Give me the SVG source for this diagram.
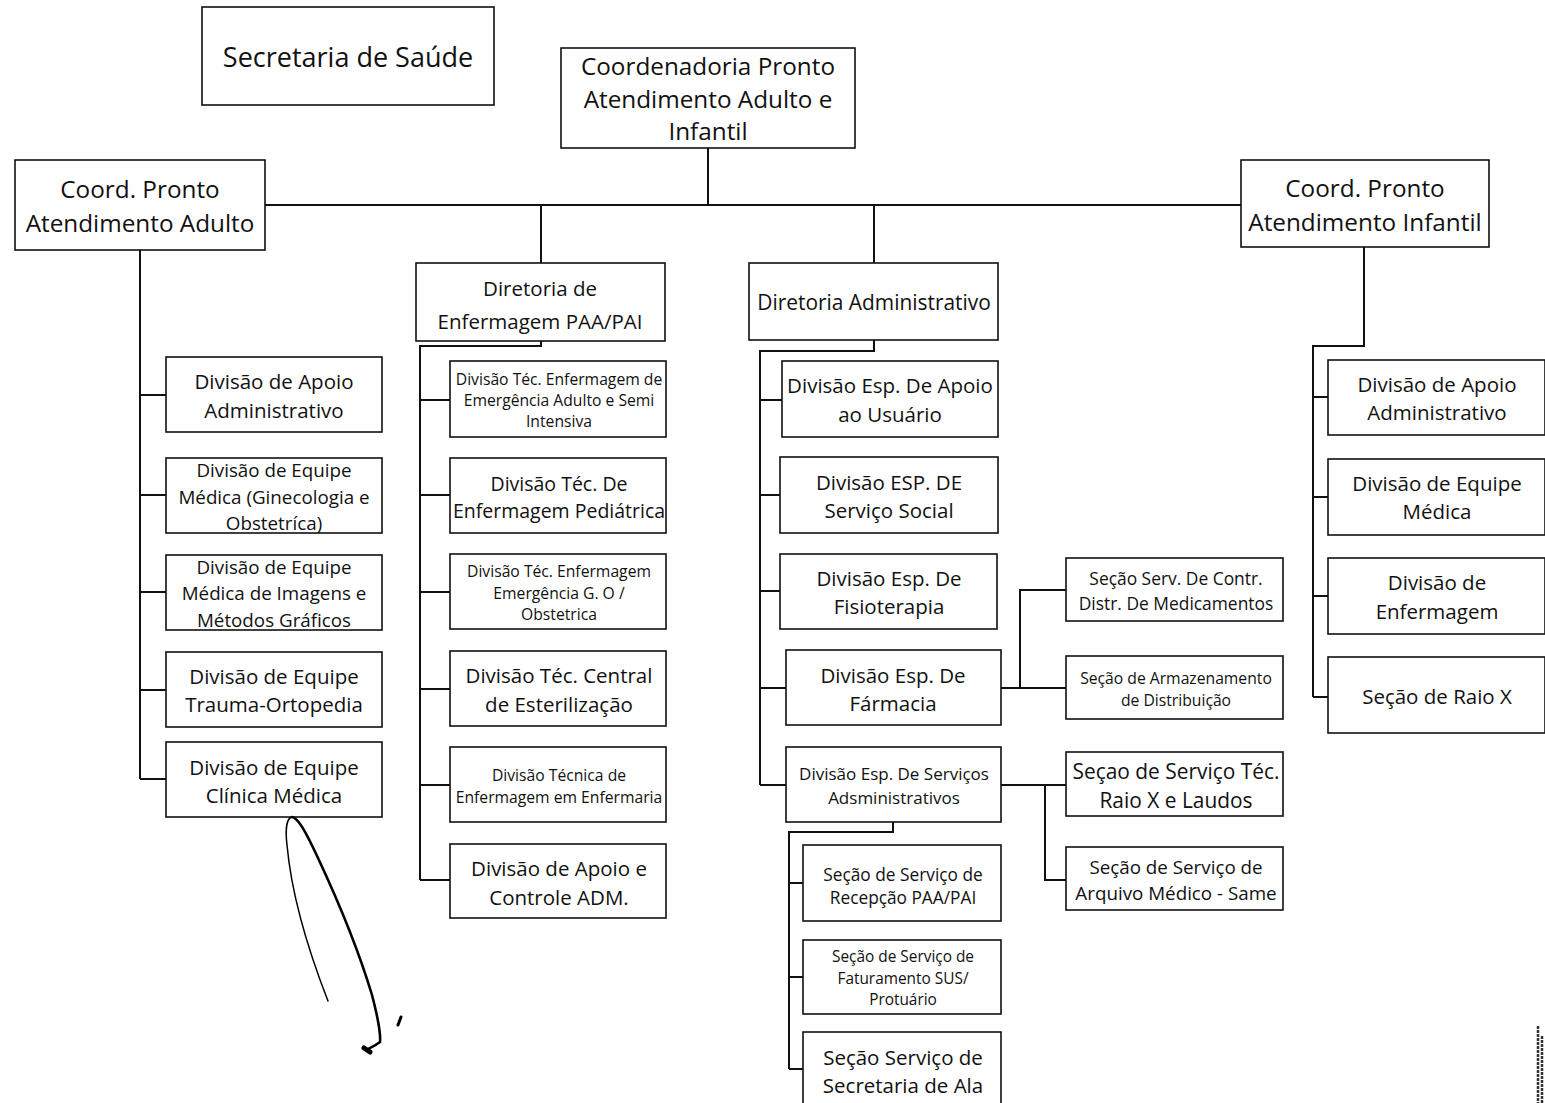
<svg xmlns="http://www.w3.org/2000/svg" width="1545" height="1103" viewBox="0 0 1545 1103">
<style>
.b{fill:#fff;stroke:#111;stroke-width:1.6}
.t{font-family:"Open Sans","Noto Sans","Liberation Sans",sans-serif;fill:#111;text-anchor:middle;dominant-baseline:central}
.l{fill:none;stroke:#111;stroke-width:2}
.s20{font-size:20.5px}.s19{font-size:19.5px}.s18{font-size:18.8px}.s16{font-size:17px}.s15{font-size:15.7px}.s23{font-size:24.3px}
</style>
<rect width="1545" height="1103" fill="#fff"/>
<g id="connectors">
<path class="l" d="M708 148V205M265 205H1241M541 205V263M874 205V263"/>
<path class="l" d="M140 250V779M140 395H166M140 495H166M140 592H166M140 690H166M140 779H166"/>
<path class="l" d="M541 341V346H420V880M420 400H450M420 495H450M420 592H450M420 689H450M420 785H450M420 880H450"/>
<path class="l" d="M874 340V351H760V785M760 400H782M760 495H780M760 591H780M760 688H786M760 785H786"/>
<path class="l" d="M1001 688H1066M1020 688V590H1066"/>
<path class="l" d="M1001 785H1066M1045 785V880H1066"/>
<path class="l" d="M893 822V832H789V1069M789 883H803M789 977H803M789 1069H803"/>
<path class="l" d="M1364 247V346H1313V697M1313 397H1328M1313 497H1328M1313 596H1328M1313 697H1328"/>
</g>
<g id="title"><rect class="b" x="202" y="7" width="292" height="98"/><text class="t" x="348" y="56" font-size="27">Secretaria de Saúde</text></g>
<g id="coord-geral"><rect class="b" x="561" y="48" width="294" height="100"/><text class="t s23" x="708" y="65">Coordenadoria Pronto</text><text class="t s23" x="708" y="98">Atendimento Adulto e</text><text class="t s23" x="708" y="130">Infantil</text></g>
<g id="coord-adulto"><rect class="b" x="15" y="160" width="250" height="90"/><text class="t s23" x="140" y="188">Coord. Pronto</text><text class="t s23" x="140" y="222">Atendimento Adulto</text></g>
<g id="coord-infantil"><rect class="b" x="1241" y="160" width="248" height="87"/><text class="t s23" x="1365" y="187">Coord. Pronto</text><text class="t s23" x="1365" y="221">Atendimento Infantil</text></g>
<g id="dir-enf"><rect class="b" x="416" y="263" width="249" height="78"/><text class="t s20" x="540" y="288">Diretoria de</text><text class="t s20" x="540" y="321">Enfermagem PAA/PAI</text></g>
<g id="dir-adm"><rect class="b" x="749" y="263" width="249" height="77"/><text class="t" font-size="20.9" x="874" y="302">Diretoria Administrativo</text></g>

<g id="a1"><rect class="b" x="166" y="357" width="216" height="75"/><text class="t s20" x="274" y="381">Divisão de Apoio</text><text class="t s20" x="274" y="410">Administrativo</text></g>
<g id="a2"><rect class="b" x="166" y="458" width="216" height="75"/><text class="t s18" x="274" y="470">Divisão de Equipe</text><text class="t s18" x="274" y="497">Médica (Ginecologia e</text><text class="t s18" x="274" y="523">Obstetríca)</text></g>
<g id="a3"><rect class="b" x="166" y="555" width="216" height="75"/><text class="t s18" x="274" y="567">Divisão de Equipe</text><text class="t s18" x="274" y="593">Médica de Imagens e</text><text class="t s18" x="274" y="620">Métodos Gráficos</text></g>
<g id="a4"><rect class="b" x="166" y="652" width="216" height="75"/><text class="t s20" x="274" y="676">Divisão de Equipe</text><text class="t s20" x="274" y="704">Trauma-Ortopedia</text></g>
<g id="a5"><rect class="b" x="166" y="742" width="216" height="75"/><text class="t s20" x="274" y="767">Divisão de Equipe</text><text class="t s20" x="274" y="795">Clínica Médica</text></g>

<g id="e1"><rect class="b" x="450" y="361" width="216" height="76"/><text class="t s15" x="559" y="379">Divisão Téc. Enfermagem de</text><text class="t s15" x="559" y="400">Emergência Adulto e Semi</text><text class="t s15" x="559" y="421">Intensiva</text></g>
<g id="e2"><rect class="b" x="450" y="458" width="216" height="75"/><text class="t s19" x="559" y="483">Divisão Téc. De</text><text class="t s19" x="559" y="510">Enfermagem Pediátrica</text></g>
<g id="e3"><rect class="b" x="450" y="554" width="216" height="75"/><text class="t s15" x="559" y="571">Divisão Téc. Enfermagem</text><text class="t s15" x="559" y="593">Emergência G. O /</text><text class="t s15" x="559" y="614">Obstetrica</text></g>
<g id="e4"><rect class="b" x="450" y="651" width="216" height="75"/><text class="t s20" x="559" y="675">Divisão Téc. Central</text><text class="t s20" x="559" y="704">de Esterilização</text></g>
<g id="e5"><rect class="b" x="450" y="747" width="216" height="75"/><text class="t s15" x="559" y="775">Divisão Técnica de</text><text class="t s15" x="559" y="797">Enfermagem em Enfermaria</text></g>
<g id="e6"><rect class="b" x="450" y="844" width="216" height="74"/><text class="t s20" x="559" y="868">Divisão de Apoio e</text><text class="t s20" x="559" y="897">Controle ADM.</text></g>

<g id="d1"><rect class="b" x="782" y="361" width="216" height="76"/><text class="t s20" x="890" y="385">Divisão Esp. De Apoio</text><text class="t s20" x="890" y="414">ao Usuário</text></g>
<g id="d2"><rect class="b" x="780" y="457" width="218" height="76"/><text class="t s20" x="889" y="482">Divisão ESP. DE</text><text class="t s20" x="889" y="510">Serviço Social</text></g>
<g id="d3"><rect class="b" x="780" y="554" width="217" height="75"/><text class="t s20" x="889" y="578">Divisão Esp. De</text><text class="t s20" x="889" y="606">Fisioterapia</text></g>
<g id="d4"><rect class="b" x="786" y="650" width="215" height="75"/><text class="t s20" x="893" y="675">Divisão Esp. De</text><text class="t s20" x="893" y="703">Fármacia</text></g>
<g id="d5"><rect class="b" x="786" y="747" width="215" height="75"/><text class="t s16" x="894" y="773">Divisão Esp. De Serviços</text><text class="t s16" x="894" y="797">Adsministrativos</text></g>

<g id="f1"><rect class="b" x="1066" y="558" width="217" height="63"/><text class="t" font-size="17.4" x="1176" y="578">Seção Serv. De Contr.</text><text class="t" font-size="17.4" x="1176" y="603">Distr. De Medicamentos</text></g>
<g id="f2"><rect class="b" x="1066" y="656" width="217" height="63"/><text class="t s15" x="1176" y="678">Seção de Armazenamento</text><text class="t s15" x="1176" y="700">de Distribuição</text></g>
<g id="g1"><rect class="b" x="1066" y="752" width="217" height="64"/><text class="t" font-size="20.9" x="1176" y="771">Seçao de Serviço Téc.</text><text class="t" font-size="20.9" x="1176" y="800">Raio X e Laudos</text></g>
<g id="g2"><rect class="b" x="1066" y="847" width="217" height="63"/><text class="t s18" x="1176" y="867">Seção de Serviço de</text><text class="t s18" x="1176" y="893">Arquivo Médico - Same</text></g>

<g id="h1"><rect class="b" x="803" y="845" width="198" height="76"/><text class="t" font-size="17.3" x="903" y="874">Seção de Serviço de</text><text class="t" font-size="17.3" x="903" y="897">Recepção PAA/PAI</text></g>
<g id="h2"><rect class="b" x="803" y="940" width="198" height="74"/><text class="t" font-size="15.4" x="903" y="956">Seção de Serviço de</text><text class="t" font-size="15.4" x="903" y="978">Faturamento SUS/</text><text class="t" font-size="15.4" x="903" y="999">Protuário</text></g>
<g id="h3"><rect class="b" x="803" y="1032" width="198" height="80"/><text class="t s20" x="903" y="1057">Seção Serviço de</text><text class="t s20" x="903" y="1085">Secretaria de Ala</text></g>

<g id="i1"><rect class="b" x="1328" y="360" width="217" height="75"/><text class="t s20" x="1437" y="384">Divisão de Apoio</text><text class="t s20" x="1437" y="412">Administrativo</text></g>
<g id="i2"><rect class="b" x="1328" y="459" width="217" height="76"/><text class="t s20" x="1437" y="483">Divisão de Equipe</text><text class="t s20" x="1437" y="511">Médica</text></g>
<g id="i3"><rect class="b" x="1328" y="558" width="217" height="76"/><text class="t s20" x="1437" y="582">Divisão de</text><text class="t s20" x="1437" y="611">Enfermagem</text></g>
<g id="i4"><rect class="b" x="1328" y="657" width="217" height="76"/><text class="t s20" x="1437" y="696">Seção de Raio X</text></g>

<g id="signature" fill="none" stroke="#000" stroke-linecap="round">
<path d="M328 1001C312 960 292 900 287 845C285 828 287 818 292 817" stroke-width="1.5"/>
<path d="M292 817C298 818 305 830 318 858C340 905 360 955 372 995C378 1018 381 1032 380 1042C375 1046 370 1048 366 1050" stroke-width="2.6"/>
<path d="M364 1048L370 1052" stroke-width="5"/>
<path d="M401 1017L398 1025" stroke-width="3"/>
</g>
<path d="M1538 1026V1103M1542 1036V1103" stroke="#333" stroke-width="2.5" stroke-dasharray="3 1"/>
</svg>
